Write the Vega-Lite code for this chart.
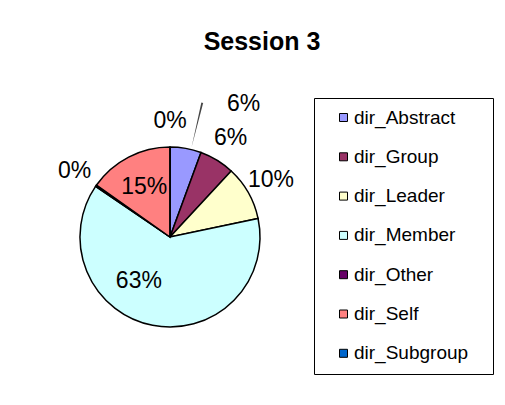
{
  "$schema": "https://vega.github.io/schema/vega-lite/v6.json",
  "autosize": "none",
  "width": 180,
  "height": 180,
  "padding": {"left": 80, "top": 147, "right": 245, "bottom": 78},
  "background": "white",
  "title": {
    "text": "Session 3",
    "font": "Liberation Sans",
    "fontSize": 25,
    "fontWeight": "bold",
    "color": "#000",
    "anchor": "middle",
    "dx": 92,
    "offset": 21
  },
  "data": {
    "values": [
      {"idx": 1, "cat": "dir_Abstract", "pct": 5.6, "label": "6%"},
      {"idx": 2, "cat": "dir_Group", "pct": 6.3, "label": "6%"},
      {"idx": 3, "cat": "dir_Leader", "pct": 9.8, "label": "10%"},
      {"idx": 4, "cat": "dir_Member", "pct": 62.8, "label": "63%"},
      {"idx": 5, "cat": "dir_Other", "pct": 0.3, "label": "0%"},
      {"idx": 6, "cat": "dir_Self", "pct": 15.2, "label": "15%"},
      {"idx": 7, "cat": "dir_Subgroup", "pct": 0.0, "label": "0%"}
    ]
  },
  "encoding": {
    "theta": {"field": "pct", "type": "quantitative", "stack": true},
    "order": {"field": "idx", "type": "quantitative"}
  },
  "layer": [
    {
      "mark": {"type": "arc", "stroke": "#000", "strokeWidth": 1.5},
      "encoding": {
        "color": {
          "field": "cat",
          "type": "nominal",
          "scale": {
            "domain": ["dir_Abstract", "dir_Group", "dir_Leader", "dir_Member", "dir_Other", "dir_Self", "dir_Subgroup"],
            "range": ["#9999FF", "#993366", "#FFFFCC", "#CCFFFF", "#660066", "#FF8080", "#0066CC"]
          },
          "legend": {
            "title": " ",
            "titleOrient": "right",
            "titlePadding": 15,
            "titleFontSize": 12,
            "orient": "none",
            "legendX": 234,
            "legendY": -49,
            "padding": 10,
            "strokeColor": "#000",
            "fillColor": "white",
            "symbolType": "square",
            "symbolSize": 64,
            "symbolStrokeColor": "#000",
            "symbolStrokeWidth": 1,
            "symbolOffset": 10,
            "labelOffset": 1,
            "labelFont": "Liberation Sans",
            "labelFontSize": 19,
            "labelColor": "#000",
            "rowPadding": 19.3
          }
        }
      }
    },
    {
      "mark": {"type": "arc", "radius": 138, "radius2": 92, "thetaOffset": 0.06, "padAngle": 0.281, "fill": "#444", "stroke": null},
      "encoding": {
        "opacity": {"condition": {"test": "datum.cat == 'dir_Abstract'", "value": 1}, "value": 0}
      }
    },
    {
      "mark": {"type": "text", "radius": 56, "font": "Liberation Sans", "fontSize": 23, "color": "#000"},
      "encoding": {
        "text": {"condition": {"test": "datum.cat == 'dir_Self'", "field": "label"}, "value": ""}
      }
    },
    {
      "mark": {"type": "text", "radius": 54, "thetaOffset": 0.42, "font": "Liberation Sans", "fontSize": 23, "color": "#000"},
      "encoding": {
        "text": {"condition": {"test": "datum.cat == 'dir_Member'", "field": "label"}, "value": ""}
      }
    },
    {
      "mark": {"type": "text", "radius": 152, "thetaOffset": 0.33, "font": "Liberation Sans", "fontSize": 23, "color": "#000"},
      "encoding": {
        "text": {"condition": {"test": "datum.cat == 'dir_Abstract'", "field": "label"}, "value": ""}
      }
    },
    {
      "mark": {"type": "text", "radius": 116, "font": "Liberation Sans", "fontSize": 23, "color": "#000"},
      "encoding": {
        "text": {"condition": {"test": "datum.cat == 'dir_Group' || datum.cat == 'dir_Leader' || datum.cat == 'dir_Other' || datum.cat == 'dir_Subgroup'", "field": "label"}, "value": ""}
      }
    }
  ]
}
